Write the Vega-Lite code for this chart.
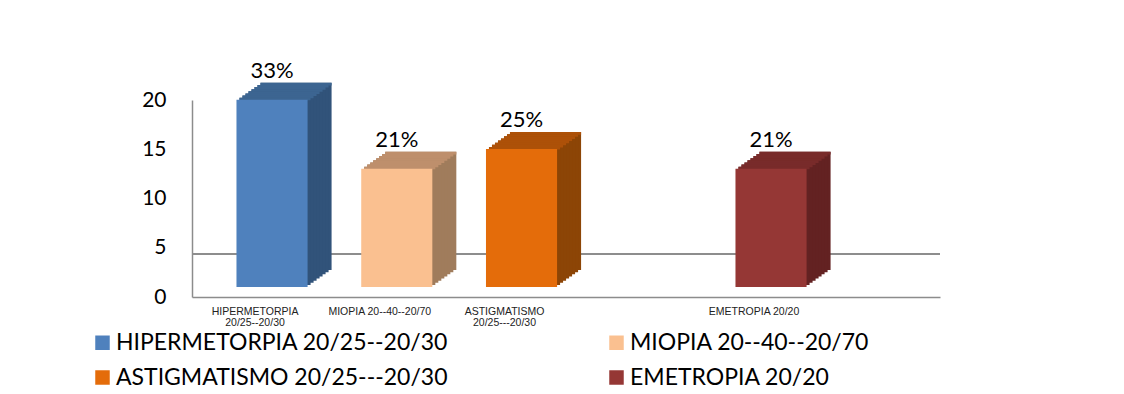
{
  "$schema": "https://vega.github.io/schema/vega-lite/v6.json",
  "autosize": "none",
  "width": 748,
  "height": 197,
  "padding": {"left": 192, "top": 100, "right": 184, "bottom": 97},
  "background": "white",
  "config": {"view": {"stroke": null}, "font": "Lato"},
  "data": {"values": [
    {"cat": "HIPERMETORPIA 20/25--20/30", "n": 19, "pct": "33%"},
    {"cat": "MIOPIA 20--40--20/70", "n": 12, "pct": "21%"},
    {"cat": "ASTIGMATISMO 20/25---20/30", "n": 14, "pct": "25%"},
    {"cat": "EMETROPIA 20/20", "n": 12, "pct": "21%"}
  ]},
  "layer": [
    {"mark": {"type": "rule", "color": "#8c8c8c", "strokeWidth": 1.5}, "encoding": {"y": {"datum": 4.37, "type": "quantitative", "scale": {"domain": [0, 20], "nice": false}}}},
    {
      "encoding": {
        "x": {"field": "cat", "type": "nominal", "sort": null,
          "scale": {"domain": ["HIPERMETORPIA 20/25--20/30", "MIOPIA 20--40--20/70", "ASTIGMATISMO 20/25---20/30", " ", "EMETROPIA 20/20"], "paddingInner": 0.43, "paddingOuter": 0.713, "align": 0.25},
          "axis": {"title": null, "domainColor": "#8c8c8c", "domainWidth": 1.5, "ticks": false, "labelAngle": 0, "labelFont": "Liberation Sans", "labelFontSize": 10.5, "labelColor": "#222222", "labelPadding": 9, "labelOffset": -17, "labelOverlap": false, "labelBaseline": "top", "labelLineHeight": 11.5, "labelLimit": 200,
            "labelExpr": "indexof(datum.value, 'HIPER') == 0 || indexof(datum.value, 'ASTIG') == 0 ? split(datum.value, ' ') : datum.value"}},
        "y": {"field": "n", "type": "quantitative", "scale": {"domain": [0, 20], "nice": false},
          "axis": {"title": null, "values": [0, 5, 10, 15, 20], "grid": false, "ticks": false, "domainColor": "#8c8c8c", "domainWidth": 1.5, "labelFont": "Lato", "labelFontSize": 21, "labelColor": "#000000", "labelPadding": 26}}
      },
      "layer": [
        {"mark": {"type": "bar", "xOffset": 24, "yOffset": -27, "y2Offset": -27}, "encoding": {"fill": {"field": "cat", "type": "nominal", "legend": null, "scale": {"domain": ["HIPERMETORPIA 20/25--20/30", "MIOPIA 20--40--20/70", "ASTIGMATISMO 20/25---20/30", "EMETROPIA 20/20"], "range": ["#31537a", "#a07c5c", "#8c4506", "#632222"]}}}},
        {"mark": {"type": "bar", "xOffset": 21, "yOffset": -24.875, "y2Offset": -24.875}, "encoding": {"fill": {"field": "cat", "type": "nominal", "legend": null, "scale": {"domain": ["HIPERMETORPIA 20/25--20/30", "MIOPIA 20--40--20/70", "ASTIGMATISMO 20/25---20/30", "EMETROPIA 20/20"], "range": ["#31537a", "#a07c5c", "#8c4506", "#632222"]}}}},
        {"mark": {"type": "bar", "xOffset": 18, "yOffset": -22.75, "y2Offset": -22.75}, "encoding": {"fill": {"field": "cat", "type": "nominal", "legend": null, "scale": {"domain": ["HIPERMETORPIA 20/25--20/30", "MIOPIA 20--40--20/70", "ASTIGMATISMO 20/25---20/30", "EMETROPIA 20/20"], "range": ["#31537a", "#a07c5c", "#8c4506", "#632222"]}}}},
        {"mark": {"type": "bar", "xOffset": 15, "yOffset": -20.625, "y2Offset": -20.625}, "encoding": {"fill": {"field": "cat", "type": "nominal", "legend": null, "scale": {"domain": ["HIPERMETORPIA 20/25--20/30", "MIOPIA 20--40--20/70", "ASTIGMATISMO 20/25---20/30", "EMETROPIA 20/20"], "range": ["#31537a", "#a07c5c", "#8c4506", "#632222"]}}}},
        {"mark": {"type": "bar", "xOffset": 12, "yOffset": -18.5, "y2Offset": -18.5}, "encoding": {"fill": {"field": "cat", "type": "nominal", "legend": null, "scale": {"domain": ["HIPERMETORPIA 20/25--20/30", "MIOPIA 20--40--20/70", "ASTIGMATISMO 20/25---20/30", "EMETROPIA 20/20"], "range": ["#31537a", "#a07c5c", "#8c4506", "#632222"]}}}},
        {"mark": {"type": "bar", "xOffset": 9, "yOffset": -16.375, "y2Offset": -16.375}, "encoding": {"fill": {"field": "cat", "type": "nominal", "legend": null, "scale": {"domain": ["HIPERMETORPIA 20/25--20/30", "MIOPIA 20--40--20/70", "ASTIGMATISMO 20/25---20/30", "EMETROPIA 20/20"], "range": ["#31537a", "#a07c5c", "#8c4506", "#632222"]}}}},
        {"mark": {"type": "bar", "xOffset": 6, "yOffset": -14.25, "y2Offset": -14.25}, "encoding": {"fill": {"field": "cat", "type": "nominal", "legend": null, "scale": {"domain": ["HIPERMETORPIA 20/25--20/30", "MIOPIA 20--40--20/70", "ASTIGMATISMO 20/25---20/30", "EMETROPIA 20/20"], "range": ["#31537a", "#a07c5c", "#8c4506", "#632222"]}}}},
        {"mark": {"type": "bar", "xOffset": 3, "yOffset": -12.125, "y2Offset": -12.125}, "encoding": {"fill": {"field": "cat", "type": "nominal", "legend": null, "scale": {"domain": ["HIPERMETORPIA 20/25--20/30", "MIOPIA 20--40--20/70", "ASTIGMATISMO 20/25---20/30", "EMETROPIA 20/20"], "range": ["#31537a", "#a07c5c", "#8c4506", "#632222"]}}}},
        {"mark": {"type": "bar", "xOffset": 24, "yOffset": -27, "y2Offset": -24.375}, "encoding": {"y2": {"field": "n"}, "fill": {"field": "cat", "type": "nominal", "legend": null, "scale": {"domain": ["HIPERMETORPIA 20/25--20/30", "MIOPIA 20--40--20/70", "ASTIGMATISMO 20/25---20/30", "EMETROPIA 20/20"], "range": ["#3c6591", "#be8f6c", "#ad5108", "#782b2a"]}}}},
        {"mark": {"type": "bar", "xOffset": 21, "yOffset": -24.875, "y2Offset": -22.25}, "encoding": {"y2": {"field": "n"}, "fill": {"field": "cat", "type": "nominal", "legend": null, "scale": {"domain": ["HIPERMETORPIA 20/25--20/30", "MIOPIA 20--40--20/70", "ASTIGMATISMO 20/25---20/30", "EMETROPIA 20/20"], "range": ["#3c6591", "#be8f6c", "#ad5108", "#782b2a"]}}}},
        {"mark": {"type": "bar", "xOffset": 18, "yOffset": -22.75, "y2Offset": -20.125}, "encoding": {"y2": {"field": "n"}, "fill": {"field": "cat", "type": "nominal", "legend": null, "scale": {"domain": ["HIPERMETORPIA 20/25--20/30", "MIOPIA 20--40--20/70", "ASTIGMATISMO 20/25---20/30", "EMETROPIA 20/20"], "range": ["#3c6591", "#be8f6c", "#ad5108", "#782b2a"]}}}},
        {"mark": {"type": "bar", "xOffset": 15, "yOffset": -20.625, "y2Offset": -18}, "encoding": {"y2": {"field": "n"}, "fill": {"field": "cat", "type": "nominal", "legend": null, "scale": {"domain": ["HIPERMETORPIA 20/25--20/30", "MIOPIA 20--40--20/70", "ASTIGMATISMO 20/25---20/30", "EMETROPIA 20/20"], "range": ["#3c6591", "#be8f6c", "#ad5108", "#782b2a"]}}}},
        {"mark": {"type": "bar", "xOffset": 12, "yOffset": -18.5, "y2Offset": -15.875}, "encoding": {"y2": {"field": "n"}, "fill": {"field": "cat", "type": "nominal", "legend": null, "scale": {"domain": ["HIPERMETORPIA 20/25--20/30", "MIOPIA 20--40--20/70", "ASTIGMATISMO 20/25---20/30", "EMETROPIA 20/20"], "range": ["#3c6591", "#be8f6c", "#ad5108", "#782b2a"]}}}},
        {"mark": {"type": "bar", "xOffset": 9, "yOffset": -16.375, "y2Offset": -13.75}, "encoding": {"y2": {"field": "n"}, "fill": {"field": "cat", "type": "nominal", "legend": null, "scale": {"domain": ["HIPERMETORPIA 20/25--20/30", "MIOPIA 20--40--20/70", "ASTIGMATISMO 20/25---20/30", "EMETROPIA 20/20"], "range": ["#3c6591", "#be8f6c", "#ad5108", "#782b2a"]}}}},
        {"mark": {"type": "bar", "xOffset": 6, "yOffset": -14.25, "y2Offset": -11.625}, "encoding": {"y2": {"field": "n"}, "fill": {"field": "cat", "type": "nominal", "legend": null, "scale": {"domain": ["HIPERMETORPIA 20/25--20/30", "MIOPIA 20--40--20/70", "ASTIGMATISMO 20/25---20/30", "EMETROPIA 20/20"], "range": ["#3c6591", "#be8f6c", "#ad5108", "#782b2a"]}}}},
        {"mark": {"type": "bar", "xOffset": 3, "yOffset": -12.125, "y2Offset": -9.5}, "encoding": {"y2": {"field": "n"}, "fill": {"field": "cat", "type": "nominal", "legend": null, "scale": {"domain": ["HIPERMETORPIA 20/25--20/30", "MIOPIA 20--40--20/70", "ASTIGMATISMO 20/25---20/30", "EMETROPIA 20/20"], "range": ["#3c6591", "#be8f6c", "#ad5108", "#782b2a"]}}}},
        {"mark": {"type": "bar", "yOffset": -10, "y2Offset": -10},
          "encoding": {"color": {"field": "cat", "type": "nominal",
            "scale": {"domain": ["HIPERMETORPIA 20/25--20/30", "MIOPIA 20--40--20/70", "ASTIGMATISMO 20/25---20/30", "EMETROPIA 20/20"], "range": ["#4f81bd", "#fac090", "#e46c0a", "#953735"]},
            "legend": {"title": null, "orient": "none", "legendX": -101, "legendY": 231, "columns": 2, "direction": "horizontal", "symbolType": "square", "symbolSize": 210, "symbolStrokeWidth": 0, "labelFont": "Lato", "labelFontSize": 23, "labelColor": "#000000", "labelLimit": 500, "labelOffset": 2, "columnPadding": 156, "rowPadding": 11, "padding": 0}}}},
        {"mark": {"type": "text", "yOffset": -32, "baseline": "alphabetic", "fontSize": 22, "font": "Lato", "color": "#000000"}, "encoding": {"text": {"field": "pct"}}}
      ],
      "resolve": {"scale": {"fill": "independent"}}
    }
  ]
}
